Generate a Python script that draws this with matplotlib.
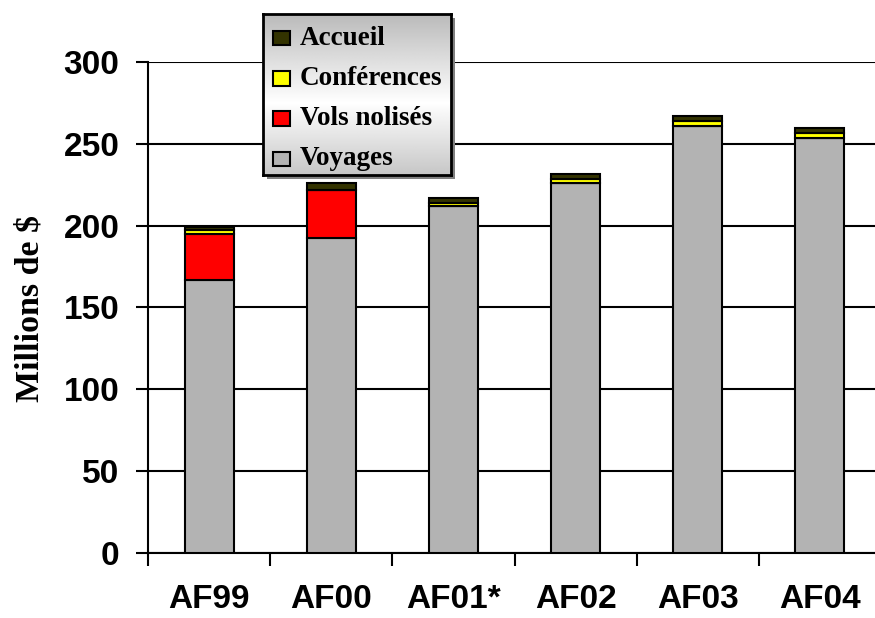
import numpy as np
import matplotlib.pyplot as plt
from matplotlib.patches import Rectangle

plt.rcParams['font.family'] = ['Liberation Sans', 'DejaVu Sans']
plt.rcParams['font.weight'] = 'bold'

annees = ['AF99', 'AF00', 'AF01*', 'AF02', 'AF03', 'AF04']
voyages = [167, 192.5, 212, 226, 261, 253.5]
vols = [28, 29, 0, 0, 0, 0]
conferences = [2, 0.5, 2, 2.5, 3, 3]
accueil = [2, 4, 3, 3, 3, 3]

series = [('Voyages', voyages, '#b3b3b3'),
          ('Vols nolisés', vols, '#ff0000'),
          ('Conférences', conferences, '#ffff00'),
          ('Accueil', accueil, '#333300')]

W, H = 875, 618
fig = plt.figure(figsize=(W / 100, H / 100), dpi=100)
ax = fig.add_axes([148 / W, 1 - 553.3 / H, 733 / W, 491.6 / H])

x = np.arange(len(annees))
bas = np.zeros(len(annees))
for nom, vals, c in series:
    ax.bar(x, vals, 0.4, bottom=bas, color=c, edgecolor='black', linewidth=1.5, zorder=3)
    bas += np.array(vals)

ax.set_xlim(-0.5, 5.5)
ax.set_ylim(0, 300)
ax.set_yticks(range(0, 301, 50))
ax.yaxis.grid(True, color='black', linewidth=1.5)
ax.set_axisbelow(True)
for s in ['top', 'right']:
    ax.spines[s].set_visible(False)
for s in ['left', 'bottom']:
    ax.spines[s].set_linewidth(1.5)

ax.tick_params(axis='y', direction='out', length=8.5, width=1.5, pad=12, labelsize=24)
ax.set_xticks(x)
ax.set_xticklabels(annees, fontsize=24)
ax.tick_params(axis='x', which='major', length=0, pad=22)
ax.set_xticks(np.arange(-0.5, len(annees), 1), minor=True)
ax.tick_params(axis='x', which='minor', direction='out', length=9, width=1.5)

fig.text(30 / W, 1 - 309 / H, 'Millions de $', rotation=90, family='Liberation Serif',
         weight='bold', fontsize=24.5, ha='center', va='center')

# legende avec degrade et ombre
lx, ly, lw, lh = 263, 14, 188, 161
ombre = Rectangle(((lx + 4) / W, 1 - (ly + lh + 4) / H), lw / W, lh / H,
                  transform=fig.transFigure, facecolor='#808080', edgecolor='none', zorder=4)
fig.patches.append(ombre)
lax = fig.add_axes([lx / W, 1 - (ly + lh) / H, lw / W, lh / H])
lax.set_zorder(5)
t = np.linspace(0, 1, 200)
grad = 1 - 0.27 * np.abs(t - 0.55) / 0.55
lax.imshow(grad[:, None], cmap='gray', vmin=0, vmax=1, aspect='auto', extent=[0, 1, 0, 1])
lax.set_xlim(0, 1)
lax.set_ylim(0, 1)
lax.set_xticks([])
lax.set_yticks([])
for s in lax.spines.values():
    s.set_linewidth(2)
for i, (nom, vals, c) in enumerate(series[::-1]):
    yc = 0.85 - i * 0.25
    lax.add_patch(Rectangle((0.053, yc - 0.045), 0.09, 0.09, facecolor=c,
                            edgecolor='black', linewidth=1.5))
    lax.text(0.197, yc, nom, family='Liberation Serif', weight='bold',
             fontsize=19.5, va='center', ha='left')

fig.savefig('out.png', dpi=100)
